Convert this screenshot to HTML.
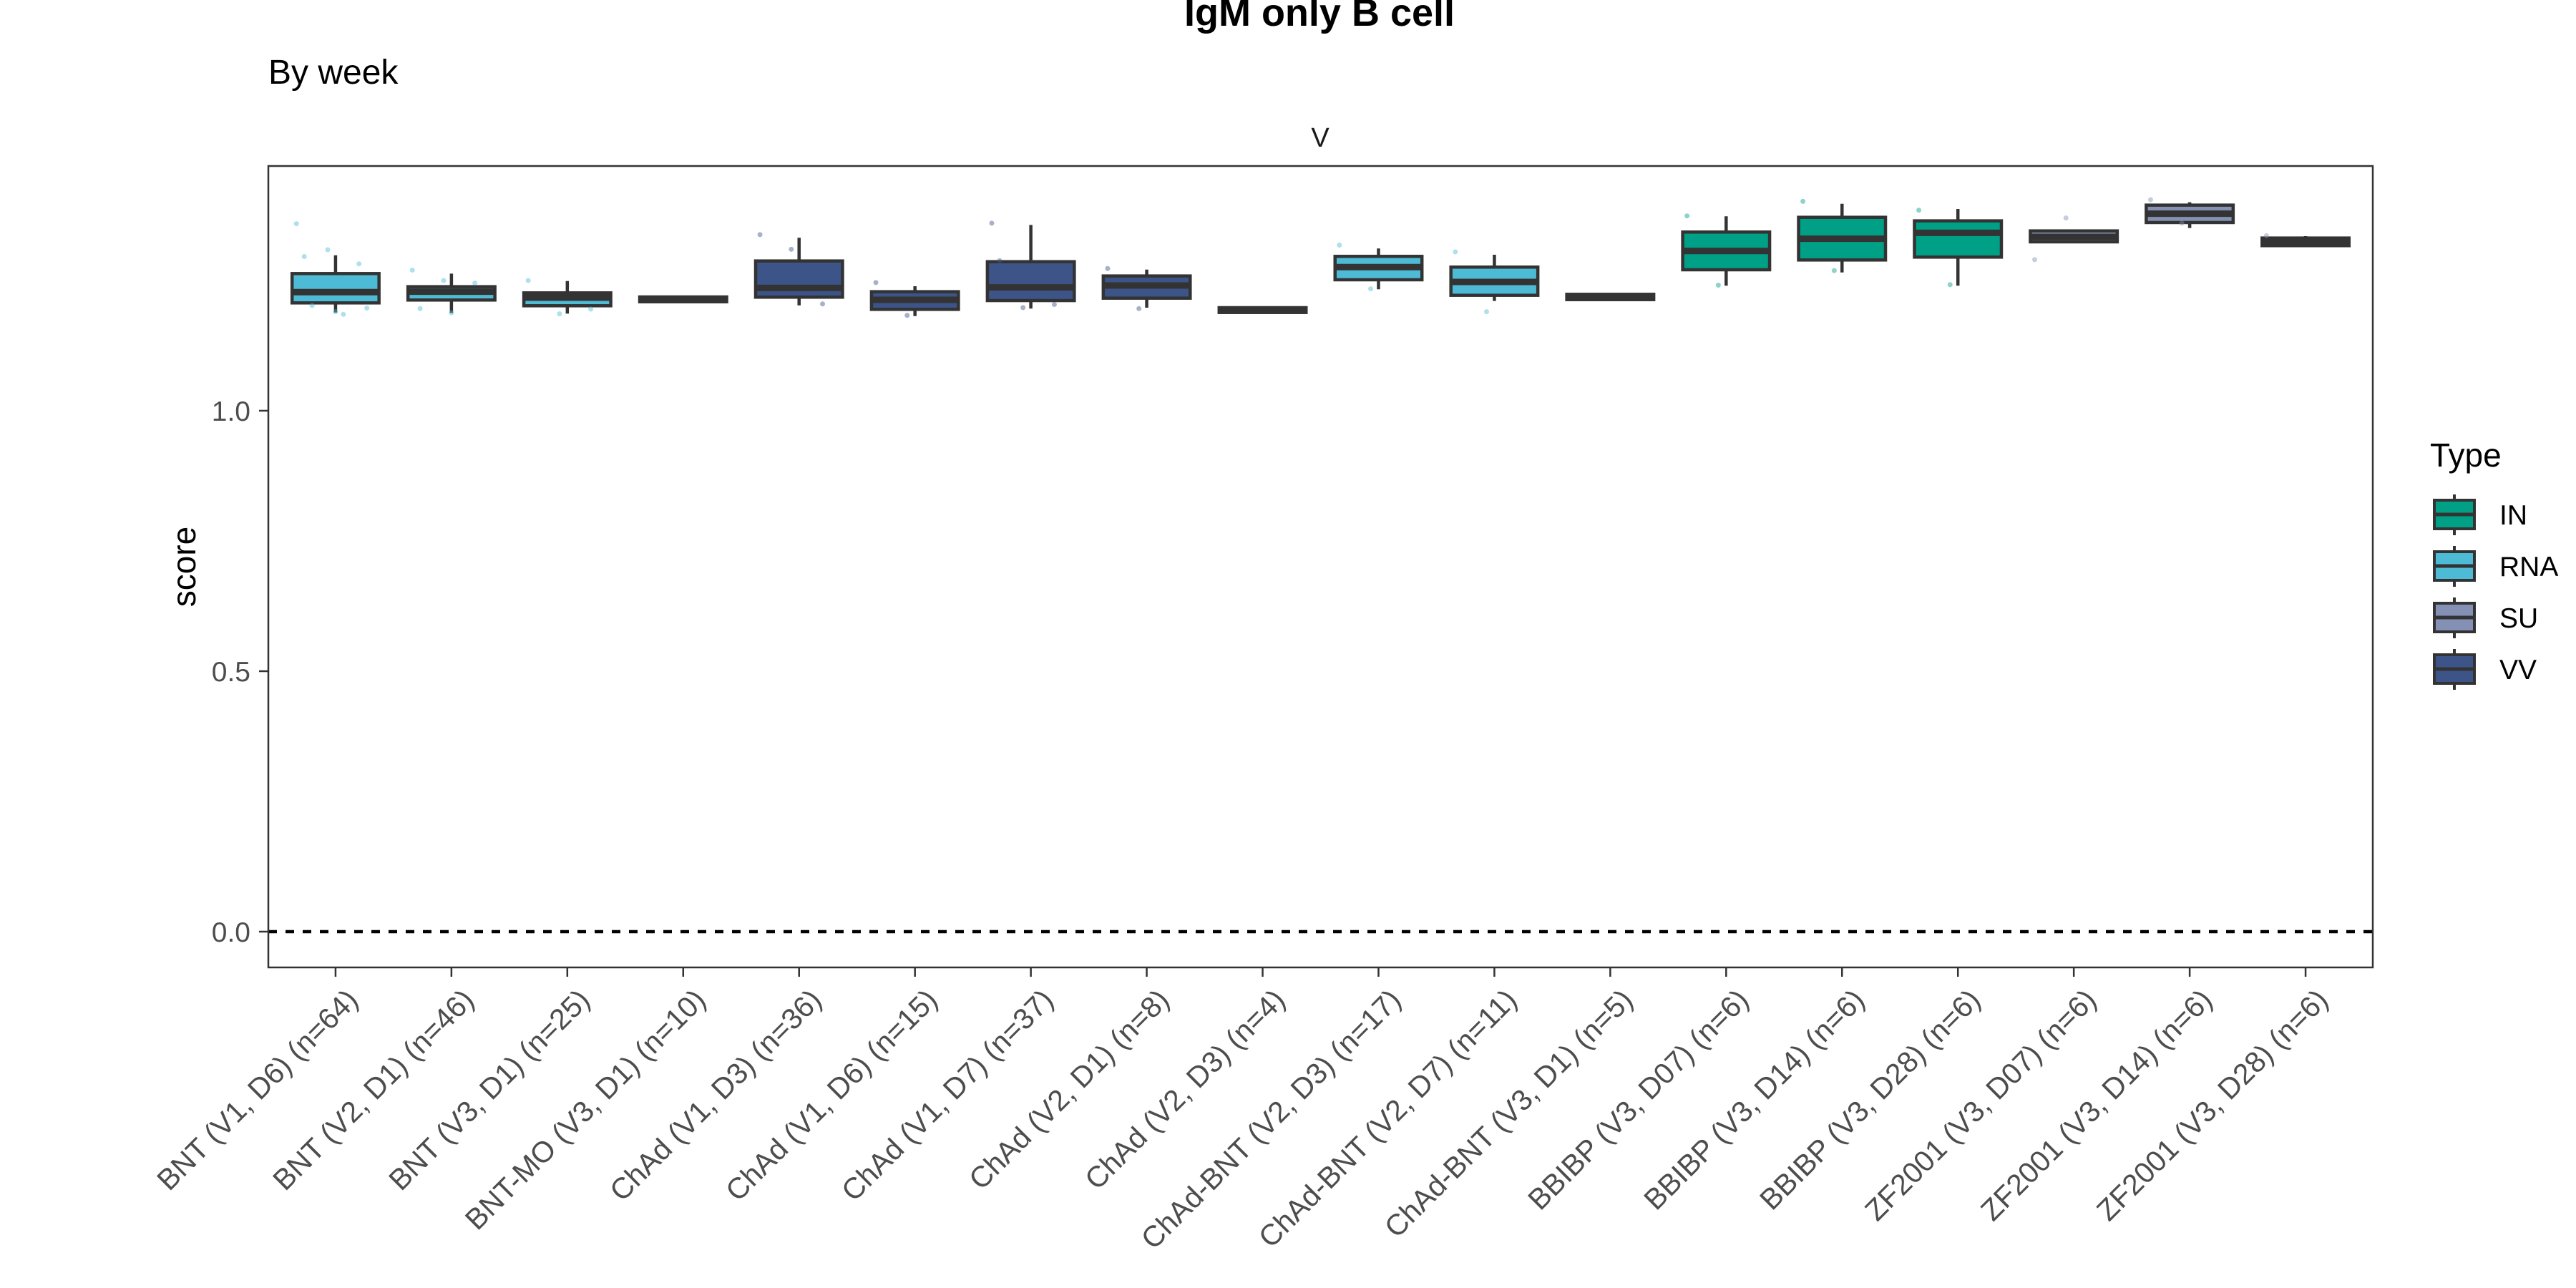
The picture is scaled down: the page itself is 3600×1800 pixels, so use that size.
<!DOCTYPE html>
<html><head><meta charset="utf-8"><style>
html,body{margin:0;padding:0;background:#fff;}
svg{display:block;font-family:"Liberation Sans",Arial,sans-serif;}
</style></head><body>
<svg id="chart" width="3600" height="1800" viewBox="0 0 3600 1800" xmlns="http://www.w3.org/2000/svg">
<rect x="0" y="0" width="3600" height="1800" fill="#fff"/>
<text x="1844" y="36" font-size="54" font-weight="bold" text-anchor="middle" fill="#000">IgM only B cell</text>
<text x="375" y="117" font-size="48" fill="#000">By week</text>
<text x="1845" y="205" font-size="38" text-anchor="middle" fill="#1a1a1a">V</text>
<text transform="translate(273,792) rotate(-90)" font-size="46" text-anchor="middle" fill="#000">score</text>
<g id="plot"></g>
<g id="legend">
<text x="3396" y="652" font-size="46" fill="#000">Type</text>
</g>
</svg>
<script>
const categories = ["BNT (V1, D6) (n=64)","BNT (V2, D1) (n=46)","BNT (V3, D1) (n=25)","BNT-MO (V3, D1) (n=10)","ChAd (V1, D3) (n=36)","ChAd (V1, D6) (n=15)","ChAd (V1, D7) (n=37)","ChAd (V2, D1) (n=8)","ChAd (V2, D3) (n=4)","ChAd-BNT (V2, D3) (n=17)","ChAd-BNT (V2, D7) (n=11)","ChAd-BNT (V3, D1) (n=5)","BBIBP (V3, D07) (n=6)","BBIBP (V3, D14) (n=6)","BBIBP (V3, D28) (n=6)","ZF2001 (V3, D07) (n=6)","ZF2001 (V3, D14) (n=6)","ZF2001 (V3, D28) (n=6)"];
const types = ["RNA","RNA","RNA","RNA","VV","VV","VV","VV","VV","RNA","RNA","RNA","IN","IN","IN","SU","SU","SU"];
const whiskerHigh = [1.2985,1.2633,1.2490,1.2184,1.3320,1.2390,1.3567,1.2710,1.1978,1.3114,1.2995,1.2235,1.3732,1.3974,1.3874,1.3452,1.4002,1.3352];
const q3 = [1.2633,1.2381,1.2262,1.2184,1.2875,1.2285,1.2861,1.2587,1.1978,1.2963,1.2757,1.2235,1.3430,1.3713,1.3645,1.3452,1.3947,1.3315];
const medians = [1.2276,1.2285,1.2170,1.2139,1.2358,1.2129,1.2367,1.2404,1.1932,1.2757,1.2473,1.2184,1.3067,1.3301,1.3416,1.3338,1.3782,1.3246];
const q1 = [1.2070,1.2125,1.2015,1.2092,1.2180,1.1946,1.2115,1.2161,1.1886,1.2514,1.2216,1.2133,1.2706,1.2894,1.2949,1.3242,1.3613,1.3169];
const whiskerLow = [1.1886,1.1877,1.1864,1.2092,1.2023,1.1817,1.1960,1.1978,1.1886,1.2331,1.2106,1.2133,1.2400,1.2655,1.2400,1.3242,1.3507,1.3169];
const points = [[1.359,1.309,1.282,1.296,1.19,1.197,1.202,1.185],[1.27,1.25,1.245,1.196,1.188],[1.25,1.186,1.195],[],[1.338,1.310,1.205],[1.246,1.183],[1.360,1.198,1.204,1.288],[1.273,1.196],[],[1.318,1.234],[1.305,1.19],[],[1.374,1.241],[1.402,1.269],[1.385,1.242],[1.290,1.370],[1.405,1.360],[1.336]];
const yTicks = [0.0,0.5,1.0];
const yTickLabels = ["0.0","0.5","1.0"];
const typeNames = ["IN","RNA","SU","VV"];
const typeColors = {IN:"#00A087",RNA:"#4DBBD5",SU:"#8491B4",VV:"#3C5488"};

const NS="http://www.w3.org/2000/svg";
const L=375,R=3316,T=232,B=1352;
const band=(R-L)/(categories.length-1+1.16);
const xPos=i=>L+band*(0.58+i);
const yPos=v=>1302-728*v;
const bw=band*0.75;
function mk(tag,attrs,parent){const e=document.createElementNS(NS,tag);for(const k in attrs)e.setAttribute(k,attrs[k]);parent.appendChild(e);return e;}
const plot=document.getElementById('plot');
const panel=mk('rect',{x:L,y:T,width:R-L,height:B-T,fill:'#fff',stroke:'none'},plot);


const zl=mk('line',{x1:L,x2:R,y1:yPos(0),y2:yPos(0),stroke:'#000','stroke-width':4.5,'stroke-dasharray':'12 12'},plot);


categories.forEach((c,i)=>{
  const g=mk('g',{},plot);
  
  
  const x=xPos(i),col=typeColors[types[i]];
  mk('line',{x1:x,x2:x,y1:yPos(whiskerHigh[i]),y2:yPos(whiskerLow[i]),stroke:'#333','stroke-width':4.5},g);
  const top=yPos(q3[i]),bot=yPos(q1[i]);
  mk('rect',{x:x-bw/2,y:top,width:bw,height:Math.max(bot-top,0.1),fill:col,stroke:'#333','stroke-width':4.5},g);
  mk('line',{x1:x-bw/2,x2:x+bw/2,y1:yPos(medians[i]),y2:yPos(medians[i]),stroke:'#333','stroke-width':9},g);
  points[i].forEach((v,j)=>{
    const off=((j*37)%11-5)/5*bw*0.45;
    const p=mk('circle',{cx:x+off,cy:yPos(v),r:3.5,fill:col,'fill-opacity':0.45},g);
    
    
  });
});
const frame=mk('rect',{x:L,y:T,width:R-L,height:B-T,fill:'none',stroke:'#333','stroke-width':2.5},plot);


yTicks.forEach((v,i)=>{
  mk('line',{x1:L-13,x2:L,y1:yPos(v),y2:yPos(v),stroke:'#333','stroke-width':2.5},plot);
  const t=mk('text',{x:L-25,y:yPos(v)+14,'font-size':39,'text-anchor':'end',fill:'#4d4d4d'},plot);
  
  
  t.textContent=yTickLabels[i];
});
categories.forEach((c,i)=>{
  const x=xPos(i);
  mk('line',{x1:x,x2:x,y1:B,y2:B+13,stroke:'#333','stroke-width':2.5},plot);
  const t=mk('text',{transform:`translate(${x+12},1378) rotate(-45)`,dy:'0.75em','font-size':41,'text-anchor':'end',fill:'#4d4d4d'},plot);
  
  
  t.textContent=c;
});
const leg=document.getElementById('legend');
typeNames.forEach((n,i)=>{
  const cy=719+72*i,g=mk('g',{},leg);
  
  
  mk('line',{x1:3430,x2:3430,y1:cy-28,y2:cy+29,stroke:'#333','stroke-width':4},g);
  mk('rect',{x:3402,y:cy-20,width:56,height:40,fill:typeColors[n],stroke:'#333','stroke-width':4},g);
  mk('line',{x1:3402,x2:3458,y1:cy,y2:cy,stroke:'#333','stroke-width':5},g);
  const t=mk('text',{x:3493,y:cy+14,'font-size':39,fill:'#000'},g);
  t.textContent=n;
});
</script>
</body></html>
